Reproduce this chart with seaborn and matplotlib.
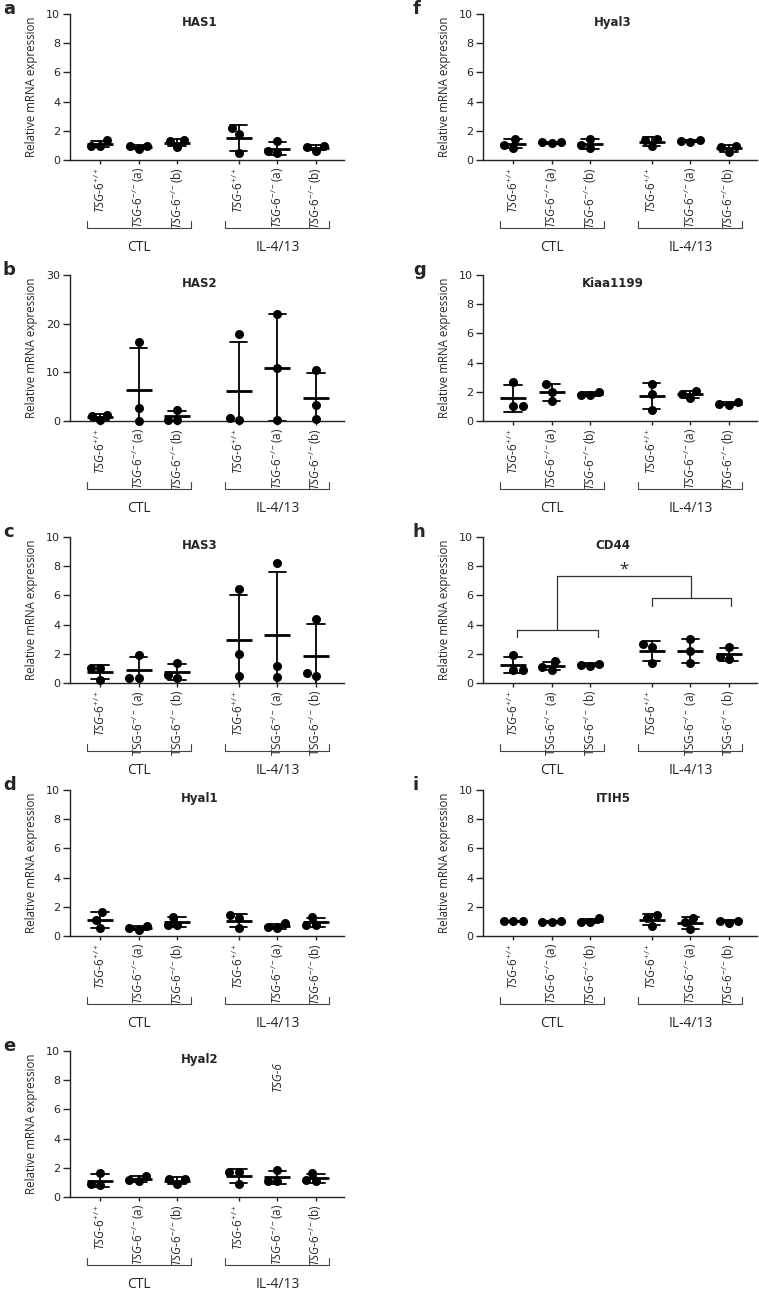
import numpy as np
import pandas as pd
import matplotlib
matplotlib.use('Agg')
import matplotlib.pyplot as plt
import matplotlib.transforms as mtransforms
import seaborn as sns

# group order: CTL +/+, CTL -/-(a), CTL -/-(b), IL +/+, IL -/-(a), IL -/-(b)
treatments = ['CTL', 'IL-4/13']

has1 = [[1.37, 0.98, 0.98], [0.98, 0.72, 0.95], [1.35, 0.9, 1.3],
        [2.2, 1.8, 0.5], [1.3, 0.45, 0.6], [0.95, 0.63, 0.9]]
has2 = [[1.3, 0.15, 1.1], [16.2, 2.7, 0.05], [2.3, 0.3, 0.3],
        [17.8, 0.15, 0.7], [22.0, 10.8, 0.15], [10.5, 3.2, 0.35]]
has3 = [[1.05, 0.18, 1.05], [1.9, 0.34, 0.34], [1.39, 0.34, 0.57],
        [6.42, 1.99, 0.48], [8.24, 1.19, 0.41], [4.36, 0.48, 0.71]]
hyal1 = [[1.62, 1.1, 0.53], [0.71, 0.41, 0.53], [1.32, 0.75, 0.75],
         [1.44, 1.21, 0.53], [0.87, 0.53, 0.64], [1.3, 0.75, 0.75]]
hyal2 = [[1.65, 0.92, 0.8], [1.46, 1.08, 1.19], [1.26, 0.89, 1.24],
         [1.7, 1.7, 0.88], [1.88, 1.08, 1.08], [1.65, 1.08, 1.14]]
hyal3 = [[1.45, 0.85, 1.05], [1.2, 1.15, 1.2], [1.45, 0.8, 1.05],
         [1.45, 0.95, 1.4], [1.4, 1.25, 1.3], [0.95, 0.55, 0.9]]
kiaa1199 = [[2.64, 1.0, 1.0], [2.53, 2.02, 1.38], [2.02, 1.77, 1.8],
            [2.53, 1.84, 0.76], [2.07, 1.84, 1.56], [1.31, 1.1, 1.15]]
cd44 = [[1.9, 0.92, 0.92], [1.5, 0.92, 1.08], [1.33, 1.15, 1.26],
        [2.69, 2.46, 1.38], [2.99, 2.18, 1.38], [2.46, 1.66, 1.77]]
itih5 = [[1.03, 1.0, 1.0], [1.0, 0.95, 0.97], [1.2, 0.93, 0.97],
         [1.42, 1.25, 0.7], [1.25, 0.98, 0.48], [1.05, 0.92, 1.05]]

sns.set_style('ticks')
plt.rcParams['font.family'] = ['Open Sans', 'DejaVu Sans']
plt.rcParams['mathtext.fontset'] = 'custom'
plt.rcParams['mathtext.rm'] = 'Open Sans'
plt.rcParams['mathtext.it'] = 'Open Sans:italic'
plt.rcParams['mathtext.bf'] = 'Open Sans:bold'

W, H = 759, 1294
fig = plt.figure(figsize=(W / 100, H / 100), dpi=100)

gap = 1.6
positions = [g * (2 + gap) + k for g in range(2) for k in range(3)]


def tick_labels(roman):
    wt = r'$\mathit{TSG}$-$\mathit{6}^{+/+}$'
    if roman:
        ko = [r'TSG-6$^{-/-}$ (a)', r'TSG-6$^{-/-}$ (b)']
    else:
        ko = [r'$\mathit{TSG}$-$\mathit{6}^{-/-}$(a)', r'$\mathit{TSG}$-$\mathit{6}^{-/-}$(b)']
    return [wt] + ko + [wt] + ko


def panel(x0, zero_y, letter, title, values, ymax, step, roman=False):
    ax = fig.add_axes([x0 / W, 1 - zero_y / H, 274 / W, 146 / H])
    df = pd.DataFrame({'pos': np.repeat(positions, 3), 'value': np.ravel(values)})
    sns.swarmplot(data=df, x='pos', y='value', native_scale=True, color='black',
                  size=6.5, ax=ax, clip_on=False, zorder=3)
    sns.pointplot(data=df, x='pos', y='value', native_scale=True, errorbar='sd',
                  color='black', markers='_', markersize=19, markeredgewidth=2,
                  linestyle='none', capsize=0.45, err_kws={'linewidth': 1.3},
                  ax=ax, zorder=4)
    ax.set_xlim(-0.78, 6.33)
    ax.set_ylim(0, ymax)
    ax.set_yticks(np.arange(0, ymax + 0.1, step))
    ax.set_xticks(positions)
    ax.set_xticklabels(tick_labels(roman), rotation=90, fontsize=8.5)
    for t in ax.get_yticklabels():
        t.set_fontfamily('DejaVu Sans')
    ax.tick_params(axis='y', labelsize=8, length=5, width=1, pad=2)
    ax.tick_params(axis='x', length=3, width=1, pad=2)
    sns.despine(ax=ax)
    for s in ['left', 'bottom']:
        ax.spines[s].set_linewidth(1.0)
        ax.spines[s].set_color('#222222')
    ax.set_xlabel('')
    ax.set_ylabel('Relative mRNA expression', fontsize=8.3)
    ax.yaxis.set_label_coords(-0.117, 0.5)
    ax.text(0.475, 0.985, title, transform=ax.transAxes, ha='center', va='top',
            fontsize=8.5, fontweight='bold', family='DejaVu Sans')
    ax.text(-(x0 - (3 if x0 < 300 else 413)) / 274, 1.0, letter, transform=ax.transAxes,
            ha='left', va='baseline', fontsize=13, fontweight='bold', family='DejaVu Sans')
    trans = mtransforms.blended_transform_factory(ax.transData, ax.transAxes)
    for g, name in enumerate(treatments):
        xs = positions[g * 3:(g + 1) * 3]
        a, b = xs[0] - 0.35, xs[-1] + 0.35
        ax.plot([a, a, b, b], [-0.418, -0.466, -0.466, -0.418], transform=trans,
                clip_on=False, color='#444444', lw=0.8)
        ax.text((a + b) / 2, -0.60, name, transform=trans, ha='center', va='center',
                fontsize=10)
    return ax


panel(70, 160, 'a', 'HAS1', has1, 10, 2)
panel(70, 421, 'b', 'HAS2', has2, 30, 10)
panel(70, 683, 'c', 'HAS3', has3, 10, 2, roman=True)
panel(70, 936, 'd', 'Hyal1', hyal1, 10, 2)
ax_e = panel(70, 1197, 'e', 'Hyal2', hyal2, 10, 2)
ax_e.text(positions[4], 8.3, 'TSG-6', rotation=90, ha='center', va='center',
          fontsize=8.5, style='italic')

panel(483, 160, 'f', 'Hyal3', hyal3, 10, 2)
panel(483, 421, 'g', 'Kiaa1199', kiaa1199, 10, 2)
ax_h = panel(483, 683, 'h', 'CD44', cd44, 10, 2, roman=True)
panel(483, 936, 'i', 'ITIH5', itih5, 10, 2)

# significance brackets for CD44
lc = '#333333'
ctl_a, ctl_b = positions[0] + 0.1, positions[2] + 0.2
il_a, il_b = positions[3], positions[5] + 0.05
ax_h.plot([ctl_a, ctl_a, ctl_b, ctl_b], [3.15, 3.65, 3.65, 3.15], color=lc, lw=0.9)
ax_h.plot([il_a, il_a, il_b, il_b], [5.25, 5.8, 5.8, 5.25], color=lc, lw=0.9)
m1, m2 = (ctl_a + ctl_b) / 2, (il_a + il_b) / 2
ax_h.plot([m1, m1, m2, m2], [3.65, 7.3, 7.3, 5.8], color=lc, lw=0.9)
ax_h.text((m1 + m2) / 2, 7.75, '*', ha='center', va='center', fontsize=12)

fig.savefig('out.png', dpi=100)
